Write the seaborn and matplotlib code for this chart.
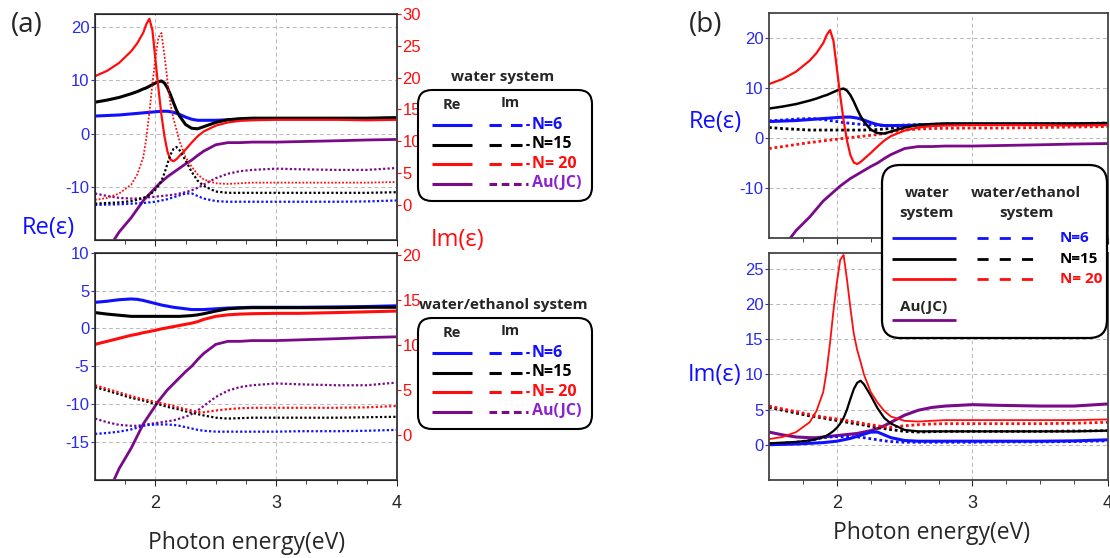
import matplotlib.pyplot as plt
import seaborn as sns
from matplotlib.patches import FancyBboxPatch

# photon energy grid (eV) shared by every curve
energy = [1.5, 1.6, 1.7, 1.8, 1.85, 1.9, 1.925, 1.95, 1.975, 2.0, 2.025, 2.05, 2.075,
          2.1, 2.125, 2.15, 2.175, 2.2, 2.25, 2.3, 2.35, 2.4, 2.5, 2.6, 2.7, 2.8,
          3.0, 3.2, 3.5, 3.75, 4.0]

# water system
re_w6 = [3.3, 3.4, 3.5, 3.7, 3.8, 3.9, 3.95, 4.0, 4.05, 4.1, 4.15, 4.2, 4.2,
         4.2, 4.1, 4.0, 3.8, 3.6, 3.1, 2.7, 2.5, 2.5, 2.5, 2.6, 2.7, 2.8,
         2.8, 2.8, 2.8, 2.8, 2.9]
re_w15 = [5.9, 6.3, 6.8, 7.5, 7.9, 8.4, 8.6, 8.9, 9.2, 9.5, 9.75, 9.9, 9.5,
          8.6, 7.3, 5.8, 4.4, 3.3, 1.7, 1.0, 0.9, 1.3, 2.1, 2.6, 2.8, 2.9,
          2.9, 2.9, 2.9, 2.9, 3.0]
re_w20 = [10.8, 11.8, 13.3, 15.5, 17.0, 19.0, 20.6, 21.6, 19.5, 14.0, 8.5, 3.5, -0.5,
          -3.4, -4.9, -5.2, -4.8, -4.2, -3.0, -1.7, -0.5, 0.4, 1.5, 2.1, 2.4, 2.5,
          2.6, 2.6, 2.6, 2.5, 2.6]
im_w6 = [0.0, 0.05, 0.1, 0.2, 0.25, 0.3, 0.35, 0.4, 0.45, 0.5, 0.6, 0.7, 0.8,
         0.9, 1.05, 1.2, 1.35, 1.5, 1.8, 1.8, 1.4, 1.0, 0.6, 0.5, 0.5, 0.5,
         0.5, 0.5, 0.5, 0.55, 0.7]
im_w15 = [0.2, 0.3, 0.4, 0.6, 0.8, 1.1, 1.3, 1.6, 1.95, 2.4, 3.0, 3.8, 5.0,
          6.5, 7.9, 8.8, 9.1, 8.6, 7.0, 5.2, 3.8, 3.0, 2.1, 1.9, 1.9, 1.9,
          1.9, 1.9, 1.9, 1.9, 2.0]
im_w20 = [0.8, 1.1, 1.8, 3.2, 4.8, 7.5, 10.5, 14.5, 19.0, 23.0, 26.3, 27.0, 23.5,
          19.5, 15.8, 13.5, 11.8, 10.0, 7.5, 6.0, 4.8, 4.0, 3.4, 3.3, 3.4, 3.5,
          3.5, 3.5, 3.5, 3.5, 3.6]

# water/ethanol system
re_e6 = [3.45, 3.6, 3.8, 3.9, 3.85, 3.7, 3.6, 3.5, 3.4, 3.3, 3.2, 3.1, 3.02,
         2.95, 2.87, 2.8, 2.75, 2.7, 2.6, 2.5, 2.5, 2.5, 2.6, 2.7, 2.75, 2.8,
         2.8, 2.8, 2.85, 2.9, 3.0]
re_e15 = [2.1, 1.9, 1.75, 1.6, 1.6, 1.6, 1.6, 1.6, 1.6, 1.6, 1.6, 1.6, 1.6,
          1.6, 1.6, 1.6, 1.6, 1.6, 1.65, 1.7, 1.8, 1.95, 2.3, 2.6, 2.7, 2.75,
          2.75, 2.75, 2.75, 2.8, 2.8]
re_e20 = [-2.1, -1.7, -1.3, -0.9, -0.75, -0.55, -0.48, -0.4, -0.32, -0.25, -0.15, -0.05, 0.02,
          0.1, 0.18, 0.25, 0.32, 0.4, 0.55, 0.7, 0.9, 1.2, 1.6, 1.8, 1.9, 1.95,
          2.0, 2.0, 2.1, 2.2, 2.3]
im_e6 = [0.1, 0.2, 0.35, 0.6, 0.8, 1.0, 1.05, 1.1, 1.12, 1.15, 1.15, 1.15, 1.15,
         1.15, 1.12, 1.1, 1.05, 1.0, 0.85, 0.7, 0.55, 0.45, 0.35, 0.35, 0.35, 0.35,
         0.35, 0.4, 0.4, 0.45, 0.55]
im_e15 = [5.3, 4.9, 4.5, 4.1, 3.95, 3.8, 3.7, 3.6, 3.52, 3.45, 3.38, 3.3, 3.2,
          3.1, 3.02, 2.95, 2.88, 2.8, 2.6, 2.45, 2.3, 2.15, 1.9, 1.8, 1.85, 1.9,
          1.9, 1.9, 1.9, 1.95, 2.0]
im_e20 = [5.5, 5.1, 4.7, 4.3, 4.1, 3.95, 3.88, 3.8, 3.72, 3.65, 3.58, 3.5, 3.42,
          3.35, 3.28, 3.2, 3.1, 3.0, 2.85, 2.7, 2.55, 2.5, 2.7, 2.85, 2.95, 3.0,
          3.0, 3.0, 3.0, 3.05, 3.2]

# bulk gold, Johnson & Christy
re_au = [-26.0, -22.0, -18.5, -15.8, -14.2, -12.6, -12.0, -11.4, -10.8, -10.2, -9.6, -9.1, -8.6,
         -8.1, -7.7, -7.3, -6.9, -6.5, -5.7, -5.0, -4.1, -3.3, -2.1, -1.7, -1.7, -1.6,
         -1.6, -1.5, -1.35, -1.2, -1.1]
im_au = [1.8, 1.4, 1.1, 1.0, 1.0, 1.1, 1.15, 1.2, 1.25, 1.3, 1.35, 1.4, 1.45,
         1.5, 1.55, 1.6, 1.7, 1.8, 2.0, 2.3, 2.7, 3.2, 4.2, 4.9, 5.3, 5.5,
         5.7, 5.6, 5.5, 5.5, 5.8]

BLUE = '#1010ff'
RED = '#ff0d0d'
BLACK = '#000000'
PURPLE = '#7a0a8a'
AUTXT = '#8b22d0'
TICKBLUE = '#2a2aee'
DOT = (0, (1, 1))

sns.set_style('white')
plt.rcParams['font.family'] = ['Liberation Sans', 'DejaVu Sans']
plt.rcParams['axes.unicode_minus'] = False

fig = plt.figure(figsize=(11.1, 5.58), dpi=100)


def frame(rect, ylim, yticks, xlabels):
    ax = fig.add_axes(rect)
    ax.set_xlim(1.5, 4)
    ax.set_ylim(*ylim)
    ax.set_yticks(yticks)
    ax.set_xticks([2, 3, 4])
    ax.set_xticks([1.75, 2.25, 2.5, 2.75, 3.25, 3.5, 3.75], minor=True)
    ax.grid(True, which='major', color='#b8b8b8', ls=(0, (4, 3)), lw=0.7)
    ax.tick_params(axis='y', colors=TICKBLUE, labelsize=12, length=3, pad=1, left=True)
    ax.tick_params(axis='x', which='major', length=4, labelsize=13, pad=7,
                   labelbottom=xlabels, bottom=True)
    ax.tick_params(axis='x', which='minor', length=3, bottom=True)
    for s in ax.spines.values():
        s.set_color('#444444')
        s.set_linewidth(1.3)
    return ax


def right_axis(ax, ylim, yticks):
    ax2 = ax.twinx()
    ax2.set_ylim(*ylim)
    ax2.set_yticks(yticks)
    ax2.tick_params(axis='y', colors=RED, labelsize=12, length=3, pad=1)
    ax2.spines['right'].set_color('#444444')
    ax2.spines['right'].set_linewidth(1.3)
    return ax2


def curve(ax, y, color, lw, dotted=False):
    sns.lineplot(x=energy, y=y, ax=ax, color=color, lw=lw, estimator=None,
                 linestyle=DOT if dotted else '-', legend=False)
    ax.set_xlabel('')
    ax.set_ylabel('')


# (a) top: water system
a1 = frame([0.0856, 0.570, 0.272, 0.405], (-20, 22.5), [-10, 0, 10, 20], False)
a1r = right_axis(a1, (-5.5, 30), [0, 5, 10, 15, 20, 25, 30])
curve(a1, re_au, PURPLE, 2.0)
curve(a1, re_w6, BLUE, 2.2)
curve(a1, re_w15, BLACK, 2.2)
curve(a1, re_w20, RED, 1.6)
curve(a1r, im_au, PURPLE, 1.6, True)
curve(a1r, im_w6, BLUE, 1.6, True)
curve(a1r, im_w15, BLACK, 1.6, True)
curve(a1r, im_w20, RED, 1.3, True)

# (a) bottom: water/ethanol system
a2 = frame([0.0856, 0.140, 0.272, 0.407], (-20, 10), [-15, -10, -5, 0, 5, 10], True)
a2r = right_axis(a2, (-5, 20.2), [0, 5, 10, 15, 20])
curve(a2, re_au, PURPLE, 2.0)
curve(a2, re_e6, BLUE, 2.2)
curve(a2, re_e15, BLACK, 2.2)
curve(a2, re_e20, RED, 2.2)
curve(a2r, im_au, PURPLE, 1.6, True)
curve(a2r, im_e6, BLUE, 1.6, True)
curve(a2r, im_e15, BLACK, 1.6, True)
curve(a2r, im_e20, RED, 1.6, True)

# (b) top: Re, both systems
b1 = frame([0.6928, 0.5735, 0.3054, 0.403], (-20, 25), [-10, 0, 10, 20], False)
curve(b1, re_au, PURPLE, 2.0)
curve(b1, re_e6, BLUE, 2.0, True)
curve(b1, re_e15, BLACK, 2.0, True)
curve(b1, re_e20, RED, 2.0, True)
curve(b1, re_w6, BLUE, 2.2)
curve(b1, re_w15, BLACK, 1.8)
curve(b1, re_w20, RED, 1.6)

# (b) bottom: Im, both systems
b2 = frame([0.6928, 0.140, 0.3054, 0.407], (-5, 27.3), [0, 5, 10, 15, 20, 25], True)
curve(b2, im_au, PURPLE, 2.2)
curve(b2, im_e6, BLUE, 2.0, True)
curve(b2, im_e15, BLACK, 2.0, True)
curve(b2, im_e20, RED, 2.0, True)
curve(b2, im_w6, BLUE, 2.2)
curve(b2, im_w15, BLACK, 1.6)
curve(b2, im_w20, RED, 1.3)

# overlay in pixel units for labels and the hand-made legends
ov = fig.add_axes([0, 0, 1, 1], zorder=10)
ov.set_xlim(0, 1110)
ov.set_ylim(558, 0)
ov.axis('off')

SANS = ['Open Sans', 'DejaVu Sans']
ov.text(27, 25, '(a)', fontsize=20, family=SANS, ha='center', va='center')
ov.text(706, 25, '(b)', fontsize=20, family=SANS, ha='center', va='center')
ov.text(48, 228, 'Re(ε)', fontsize=17, family=SANS, color=BLUE, ha='center', va='center')
ov.text(458, 240, 'Im(ε)', fontsize=17, family=SANS, color=RED, ha='center', va='center')
ov.text(715, 122, 'Re(ε)', fontsize=17, family=SANS, color=BLUE, ha='center', va='center')
ov.text(715, 375, 'Im(ε)', fontsize=17, family=SANS, color=BLUE, ha='center', va='center')
ov.text(247, 543, 'Photon energy(eV)', fontsize=16.5, family=SANS, ha='center', va='center')
ov.text(932, 533, 'Photon energy(eV)', fontsize=16.5, family=SANS, ha='center', va='center')

names = ['N=6', 'N=15', 'N= 20', 'Au(JC)']
cols = [BLUE, BLACK, RED, PURPLE]
txtcols = [BLUE, BLACK, RED, AUTXT]


def legend_a(top, title):
    ov.text(503, top - 13, title, fontsize=11, family=SANS, weight='bold',
            ha='center', va='center')
    ov.add_patch(FancyBboxPatch((418, top), 174, 111,
                                boxstyle='round,pad=0,rounding_size=14',
                                fc='white', ec='black', lw=1.5))
    ov.text(452, top + 15, 'Re', fontsize=10.5, family=SANS, weight='bold', ha='center', va='center')
    ov.text(510, top + 13, 'Im', fontsize=10.5, family=SANS, weight='bold', ha='center', va='center')
    for i in range(4):
        y = top + 35 + 19.5 * i
        ov.plot([432, 472], [y, y], color=cols[i], lw=2.2, solid_capstyle='butt')
        if i < 3:
            ov.plot([489, 522], [y, y], color=cols[i], lw=2.2, ls=(0, (4, 3)))
            ov.plot([527, 528.5], [y, y], color=cols[i], lw=1.5)
        else:
            ov.plot([489, 528], [y, y], color=cols[i], lw=2.2, ls=(0, (2.5, 1.5)))
        ov.text(532, y, names[i], fontsize=11.5, family=SANS, weight='bold',
                color=txtcols[i], ha='left', va='center')


legend_a(90, 'water system')
legend_a(318, 'water/ethanol system')

# legend of panel (b)
ov.add_patch(FancyBboxPatch((882, 165), 225, 173,
                            boxstyle='round,pad=0,rounding_size=18',
                            fc='white', ec='black', lw=1.6))
ov.text(927, 203, 'water\nsystem', fontsize=11, family=SANS, weight='bold',
        ha='center', va='center', linespacing=1.5)
ov.text(1026, 203, 'water/ethanol\nsystem', fontsize=11, family=SANS, weight='bold',
        ha='center', va='center', linespacing=1.5)
for i, y in enumerate([238, 259, 279]):
    ov.plot([892, 956], [y, y], color=cols[i], lw=2.0, solid_capstyle='butt')
    ov.plot([977, 1041], [y, y], color=cols[i], lw=2.0, ls=(0, (4, 4)))
    ov.text(1060, y, names[i], fontsize=11, family=SANS, weight='bold',
            color=txtcols[i], ha='left', va='center')
ov.text(924, 307, 'Au(JC)', fontsize=11, family=SANS, weight='bold',
        ha='center', va='center')
ov.plot([892, 956], [320, 320], color=PURPLE, lw=2.0, solid_capstyle='butt')

fig.savefig('out.png', dpi=100)
